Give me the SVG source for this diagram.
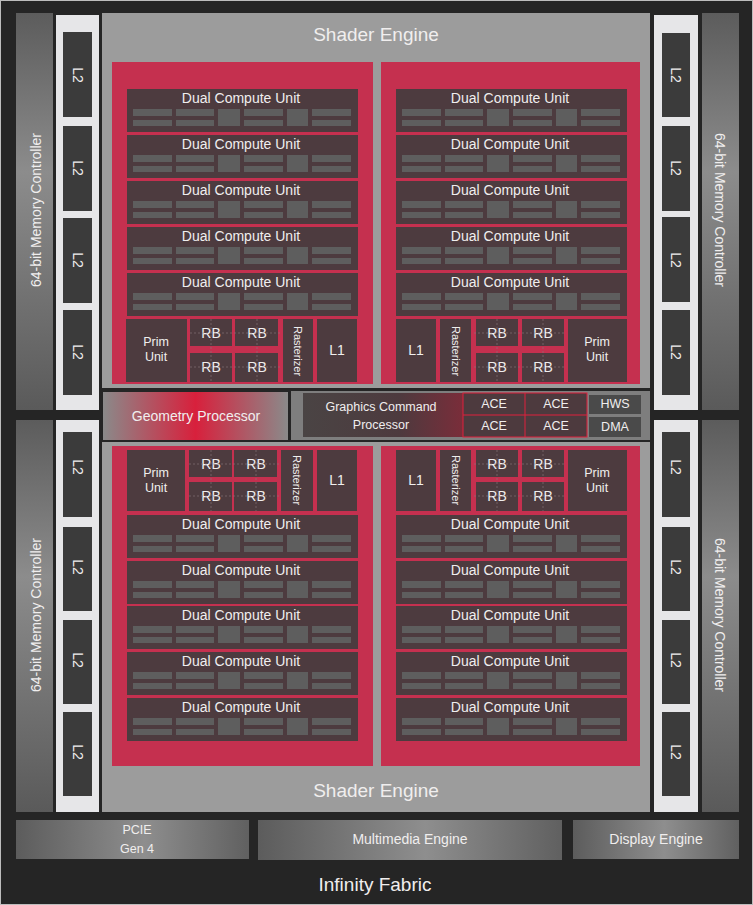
<svg xmlns="http://www.w3.org/2000/svg" xmlns:xlink="http://www.w3.org/1999/xlink" width="753" height="905" viewBox="0 0 753 905">
<style>
text{font-family:"Liberation Sans","DejaVu Sans",sans-serif;fill:#f0eeee;text-anchor:middle;dominant-baseline:central}
.big{font-size:19px}
.md{font-size:14px}
.sm{font-size:12.5px}
.xs{font-size:11px}
.mem{fill:url(#memg)}
.l2col{fill:#e6e6e8}
.l2{fill:#3b3b3b}
.se{fill:#9c9c9c}
.red{fill:#c5304f}
.dcu{fill:#4d3b3f}
.bar{fill:#5e5e5e}
.cell{fill:#4d3b3f}
.bot{fill:url(#botg)}
.rbl{stroke:#8a7a7c;stroke-width:0.6;stroke-dasharray:2 2;fill:none}
</style>
<defs>
<linearGradient id="memg" x1="0" y1="0" x2="0" y2="1">
<stop offset="0" stop-color="#5c5c5c"/><stop offset="0.4" stop-color="#8c8c8c"/><stop offset="1" stop-color="#5a5a5a"/>
</linearGradient>
<linearGradient id="botg" x1="0" y1="0" x2="1" y2="0">
<stop offset="0" stop-color="#5c5c5c"/><stop offset="0.55" stop-color="#8e8e8e"/><stop offset="1" stop-color="#606060"/>
</linearGradient>
<linearGradient id="geog" x1="0" y1="0" x2="1" y2="0">
<stop offset="0" stop-color="#8a8a8a"/><stop offset="0.5" stop-color="#d8203c"/><stop offset="1" stop-color="#8a8a8a"/>
</linearGradient>
<linearGradient id="gcpg" x1="0" y1="0" x2="1" y2="0">
<stop offset="0" stop-color="#4a4444"/><stop offset="0.6" stop-color="#4d3a3e"/><stop offset="1" stop-color="#7a2d3a"/>
</linearGradient>
<g id="bars">
<rect class="bar" x="6" y="20" width="39" height="7"/><rect class="bar" x="6" y="31" width="39" height="6"/>
<rect class="bar" x="49" y="20" width="38" height="7"/><rect class="bar" x="49" y="31" width="38" height="6"/>
<rect class="bar" x="91" y="20" width="22" height="17"/>
<rect class="bar" x="117" y="20" width="39" height="7"/><rect class="bar" x="117" y="31" width="39" height="6"/>
<rect class="bar" x="160" y="20" width="21" height="17"/>
<rect class="bar" x="185" y="20" width="39" height="7"/><rect class="bar" x="185" y="31" width="39" height="6"/>
</g>
</defs>
<rect x="0" y="0" width="753" height="905" fill="#252525"/>
<rect x="0.5" y="0.5" width="752" height="904" fill="none" stroke="#bdbdbd" stroke-width="1"/>

<!-- Memory controllers -->
<g id="mc-tl"><rect class="mem" x="16" y="13" width="37" height="397"/><text class="md" transform="translate(36,210) rotate(-90)">64-bit Memory Controller</text></g>
<g id="mc-bl"><rect class="mem" x="16" y="420" width="37" height="392"/><text class="md" transform="translate(36,615) rotate(-90)">64-bit Memory Controller</text></g>
<g id="mc-tr"><rect class="mem" x="702" y="13" width="37" height="397"/><text class="md" transform="translate(720,210) rotate(90)">64-bit Memory Controller</text></g>
<g id="mc-br"><rect class="mem" x="702" y="420" width="37" height="392"/><text class="md" transform="translate(720,615) rotate(90)">64-bit Memory Controller</text></g>

<!-- L2 columns -->
<g id="l2-tl">
<rect class="l2col" x="56" y="15" width="43" height="395"/>
<rect class="l2" x="63" y="32" width="29" height="85"/><text class="md" transform="translate(77.5,75) rotate(90)">L2</text>
<rect class="l2" x="63" y="126" width="29" height="85"/><text class="md" transform="translate(77.5,168) rotate(90)">L2</text>
<rect class="l2" x="63" y="218" width="29" height="85"/><text class="md" transform="translate(77.5,260) rotate(90)">L2</text>
<rect class="l2" x="63" y="310" width="29" height="85"/><text class="md" transform="translate(77.5,352) rotate(90)">L2</text>
</g>
<g id="l2-bl">
<rect class="l2col" x="56" y="420" width="43" height="392"/>
<rect class="l2" x="63" y="432" width="29" height="85"/><text class="md" transform="translate(77.5,467) rotate(90)">L2</text>
<rect class="l2" x="63" y="527" width="29" height="84"/><text class="md" transform="translate(77.5,567) rotate(90)">L2</text>
<rect class="l2" x="63" y="620" width="29" height="84"/><text class="md" transform="translate(77.5,660) rotate(90)">L2</text>
<rect class="l2" x="63" y="712" width="29" height="84"/><text class="md" transform="translate(77.5,752) rotate(90)">L2</text>
</g>
<g id="l2-tr">
<rect class="l2col" x="654" y="15" width="44" height="395"/>
<rect class="l2" x="662" y="33" width="28" height="84"/><text class="md" transform="translate(676,75) rotate(90)">L2</text>
<rect class="l2" x="662" y="126" width="28" height="85"/><text class="md" transform="translate(676,168) rotate(90)">L2</text>
<rect class="l2" x="662" y="217" width="28" height="85"/><text class="md" transform="translate(676,260) rotate(90)">L2</text>
<rect class="l2" x="662" y="310" width="28" height="85"/><text class="md" transform="translate(676,352) rotate(90)">L2</text>
</g>
<g id="l2-br">
<rect class="l2col" x="654" y="420" width="44" height="392"/>
<rect class="l2" x="662" y="432" width="28" height="85"/><text class="md" transform="translate(676,467) rotate(90)">L2</text>
<rect class="l2" x="662" y="527" width="28" height="84"/><text class="md" transform="translate(676,567) rotate(90)">L2</text>
<rect class="l2" x="662" y="620" width="28" height="84"/><text class="md" transform="translate(676,660) rotate(90)">L2</text>
<rect class="l2" x="662" y="712" width="28" height="84"/><text class="md" transform="translate(676,752) rotate(90)">L2</text>
</g>

<!-- Shader engine top -->
<g id="se-top">
<rect class="se" x="102" y="13" width="548" height="375"/>
<text class="big" x="376" y="34">Shader Engine</text>
<rect class="red" x="112" y="62" width="261" height="322"/>
<rect class="red" x="381" y="62" width="259" height="322"/>
</g>
<g id="se-bottom">
<rect class="se" x="102" y="442" width="548" height="370"/>
<text class="big" x="376" y="790">Shader Engine</text>
<rect class="red" x="112" y="446" width="261" height="320"/>
<rect class="red" x="381" y="446" width="259" height="320"/>
</g>

<!-- DCUs top-left -->
<g id="dcu-tl-1"><rect class="dcu" x="127" y="89" width="231" height="43"/><use href="#bars" x="127" y="89"/><text class="md" x="241" y="98">Dual Compute Unit</text></g>
<g id="dcu-tl-2"><rect class="dcu" x="127" y="135" width="231" height="43"/><use href="#bars" x="127" y="135"/><text class="md" x="241" y="144">Dual Compute Unit</text></g>
<g id="dcu-tl-3"><rect class="dcu" x="127" y="181" width="231" height="43"/><use href="#bars" x="127" y="181"/><text class="md" x="241" y="190">Dual Compute Unit</text></g>
<g id="dcu-tl-4"><rect class="dcu" x="127" y="227" width="231" height="43"/><use href="#bars" x="127" y="227"/><text class="md" x="241" y="236">Dual Compute Unit</text></g>
<g id="dcu-tl-5"><rect class="dcu" x="127" y="273" width="231" height="43"/><use href="#bars" x="127" y="273"/><text class="md" x="241" y="282">Dual Compute Unit</text></g>
<!-- DCUs top-right -->
<g id="dcu-tr-1"><rect class="dcu" x="396" y="89" width="231" height="43"/><use href="#bars" x="396" y="89"/><text class="md" x="510" y="98">Dual Compute Unit</text></g>
<g id="dcu-tr-2"><rect class="dcu" x="396" y="135" width="231" height="43"/><use href="#bars" x="396" y="135"/><text class="md" x="510" y="144">Dual Compute Unit</text></g>
<g id="dcu-tr-3"><rect class="dcu" x="396" y="181" width="231" height="43"/><use href="#bars" x="396" y="181"/><text class="md" x="510" y="190">Dual Compute Unit</text></g>
<g id="dcu-tr-4"><rect class="dcu" x="396" y="227" width="231" height="43"/><use href="#bars" x="396" y="227"/><text class="md" x="510" y="236">Dual Compute Unit</text></g>
<g id="dcu-tr-5"><rect class="dcu" x="396" y="273" width="231" height="43"/><use href="#bars" x="396" y="273"/><text class="md" x="510" y="282">Dual Compute Unit</text></g>
<!-- DCUs bottom-left -->
<g id="dcu-bl-1"><rect class="dcu" x="127" y="515" width="231" height="43"/><use href="#bars" x="127" y="515"/><text class="md" x="241" y="524">Dual Compute Unit</text></g>
<g id="dcu-bl-2"><rect class="dcu" x="127" y="561" width="231" height="43"/><use href="#bars" x="127" y="561"/><text class="md" x="241" y="570">Dual Compute Unit</text></g>
<g id="dcu-bl-3"><rect class="dcu" x="127" y="606" width="231" height="43"/><use href="#bars" x="127" y="606"/><text class="md" x="241" y="615">Dual Compute Unit</text></g>
<g id="dcu-bl-4"><rect class="dcu" x="127" y="652" width="231" height="43"/><use href="#bars" x="127" y="652"/><text class="md" x="241" y="661">Dual Compute Unit</text></g>
<g id="dcu-bl-5"><rect class="dcu" x="127" y="698" width="231" height="43"/><use href="#bars" x="127" y="698"/><text class="md" x="241" y="707">Dual Compute Unit</text></g>
<!-- DCUs bottom-right -->
<g id="dcu-br-1"><rect class="dcu" x="396" y="515" width="231" height="43"/><use href="#bars" x="396" y="515"/><text class="md" x="510" y="524">Dual Compute Unit</text></g>
<g id="dcu-br-2"><rect class="dcu" x="396" y="561" width="231" height="43"/><use href="#bars" x="396" y="561"/><text class="md" x="510" y="570">Dual Compute Unit</text></g>
<g id="dcu-br-3"><rect class="dcu" x="396" y="606" width="231" height="43"/><use href="#bars" x="396" y="606"/><text class="md" x="510" y="615">Dual Compute Unit</text></g>
<g id="dcu-br-4"><rect class="dcu" x="396" y="652" width="231" height="43"/><use href="#bars" x="396" y="652"/><text class="md" x="510" y="661">Dual Compute Unit</text></g>
<g id="dcu-br-5"><rect class="dcu" x="396" y="698" width="231" height="43"/><use href="#bars" x="396" y="698"/><text class="md" x="510" y="707">Dual Compute Unit</text></g>

<!-- Front-end row top-left -->
<g id="fe-tl">
<rect class="cell" x="126" y="319" width="61" height="63"/><text class="sm" x="156" y="342">Prim</text><text class="sm" x="156" y="357">Unit</text>
<rect class="cell" x="190" y="319" width="42" height="27"/><text class="md" x="211" y="333">RB</text>
<rect class="cell" x="235" y="319" width="43" height="27"/><text class="md" x="257" y="333">RB</text>
<rect class="cell" x="190" y="353" width="42" height="29"/><text class="md" x="211" y="367">RB</text>
<rect class="cell" x="235" y="353" width="43" height="29"/><text class="md" x="257" y="367">RB</text>
<path class="rbl" d="M190 333H280M190 367H280M211 319V382M257 319V382"/>
<rect class="cell" x="283" y="319" width="30" height="63"/><text class="xs" transform="translate(298,351) rotate(90)">Rasterizer</text>
<rect class="cell" x="317" y="319" width="40" height="63"/><text class="md" x="337" y="350">L1</text>
</g>
<!-- Front-end row top-right -->
<g id="fe-tr">
<rect class="cell" x="396" y="319" width="40" height="63"/><text class="md" x="416" y="350">L1</text>
<rect class="cell" x="440" y="319" width="31" height="63"/><text class="xs" transform="translate(455.5,351) rotate(90)">Rasterizer</text>
<rect class="cell" x="476" y="319" width="42" height="27"/><text class="md" x="497" y="333">RB</text>
<rect class="cell" x="522" y="319" width="42" height="27"/><text class="md" x="543" y="333">RB</text>
<rect class="cell" x="476" y="353" width="42" height="29"/><text class="md" x="497" y="367">RB</text>
<rect class="cell" x="522" y="353" width="42" height="29"/><text class="md" x="543" y="367">RB</text>
<path class="rbl" d="M474 333H566M474 367H566M497 319V382M543 319V382"/>
<rect class="cell" x="568" y="319" width="59" height="63"/><text class="sm" x="597" y="342">Prim</text><text class="sm" x="597" y="357">Unit</text>
</g>
<!-- Front-end row bottom-left -->
<g id="fe-bl">
<rect class="cell" x="127" y="450" width="58" height="61"/><text class="sm" x="156" y="473">Prim</text><text class="sm" x="156" y="488">Unit</text>
<rect class="cell" x="189" y="450" width="43" height="27"/><text class="md" x="211" y="464">RB</text>
<rect class="cell" x="234" y="450" width="43" height="27"/><text class="md" x="256" y="464">RB</text>
<rect class="cell" x="189" y="482" width="43" height="29"/><text class="md" x="211" y="496">RB</text>
<rect class="cell" x="234" y="482" width="43" height="29"/><text class="md" x="256" y="496">RB</text>
<path class="rbl" d="M189 464H279M189 496H279M211 450V511M256 450V511"/>
<rect class="cell" x="281" y="450" width="32" height="61"/><text class="xs" transform="translate(297,480) rotate(90)">Rasterizer</text>
<rect class="cell" x="317" y="450" width="40" height="61"/><text class="md" x="337" y="480">L1</text>
</g>
<!-- Front-end row bottom-right -->
<g id="fe-br">
<rect class="cell" x="396" y="450" width="40" height="61"/><text class="md" x="416" y="480">L1</text>
<rect class="cell" x="440" y="450" width="31" height="61"/><text class="xs" transform="translate(455.5,480) rotate(90)">Rasterizer</text>
<rect class="cell" x="476" y="450" width="42" height="27"/><text class="md" x="497" y="464">RB</text>
<rect class="cell" x="522" y="450" width="42" height="27"/><text class="md" x="543" y="464">RB</text>
<rect class="cell" x="476" y="482" width="42" height="29"/><text class="md" x="497" y="496">RB</text>
<rect class="cell" x="522" y="482" width="42" height="29"/><text class="md" x="543" y="496">RB</text>
<path class="rbl" d="M474 464H566M474 496H566M497 450V511M543 450V511"/>
<rect class="cell" x="568" y="450" width="59" height="61"/><text class="sm" x="597" y="473">Prim</text><text class="sm" x="597" y="488">Unit</text>
</g>

<!-- Middle band -->
<g id="geometry-processor">
<rect x="103" y="392" width="185" height="48" fill="url(#geog)"/>
<text class="md" x="196" y="416">Geometry Processor</text>
</g>
<g id="command-processor">
<rect x="291" y="391" width="359" height="49" fill="#7e7e7e"/>
<rect x="303" y="393" width="160" height="44" fill="url(#gcpg)"/>
<text class="sm" x="381" y="407">Graphics Command</text>
<text class="sm" x="381" y="425">Processor</text>
</g>
<g id="ace">
<rect x="463" y="393" width="124" height="44" fill="#4d3a3e" stroke="#e0203c" stroke-width="1"/>
<path d="M525 393V437M463 415H587" stroke="#e0203c" stroke-width="1"/>
<text class="sm" x="494" y="404">ACE</text>
<text class="sm" x="556" y="404">ACE</text>
<text class="sm" x="494" y="426">ACE</text>
<text class="sm" x="556" y="426">ACE</text>
</g>
<g id="hws"><rect x="589" y="395" width="52" height="19" fill="#4a4a4a"/><text class="sm" x="615" y="404">HWS</text></g>
<g id="dma"><rect x="589" y="417" width="52" height="20" fill="#4a4a4a"/><text class="sm" x="615" y="427">DMA</text></g>

<!-- Bottom bar -->
<g id="pcie"><rect class="bot" x="16" y="820" width="233" height="39"/><text class="sm" x="137" y="830">PCIE</text><text class="sm" x="137" y="849">Gen 4</text></g>
<g id="multimedia"><rect class="bot" x="258" y="820" width="304" height="40"/><text class="md" x="410" y="839">Multimedia Engine</text></g>
<g id="display"><rect class="bot" x="573" y="820" width="166" height="39"/><text class="md" x="656" y="839">Display Engine</text></g>
<g id="infinity-fabric"><text class="big" x="375" y="884">Infinity Fabric</text></g>
<g id="connectors"></g>
</svg>
